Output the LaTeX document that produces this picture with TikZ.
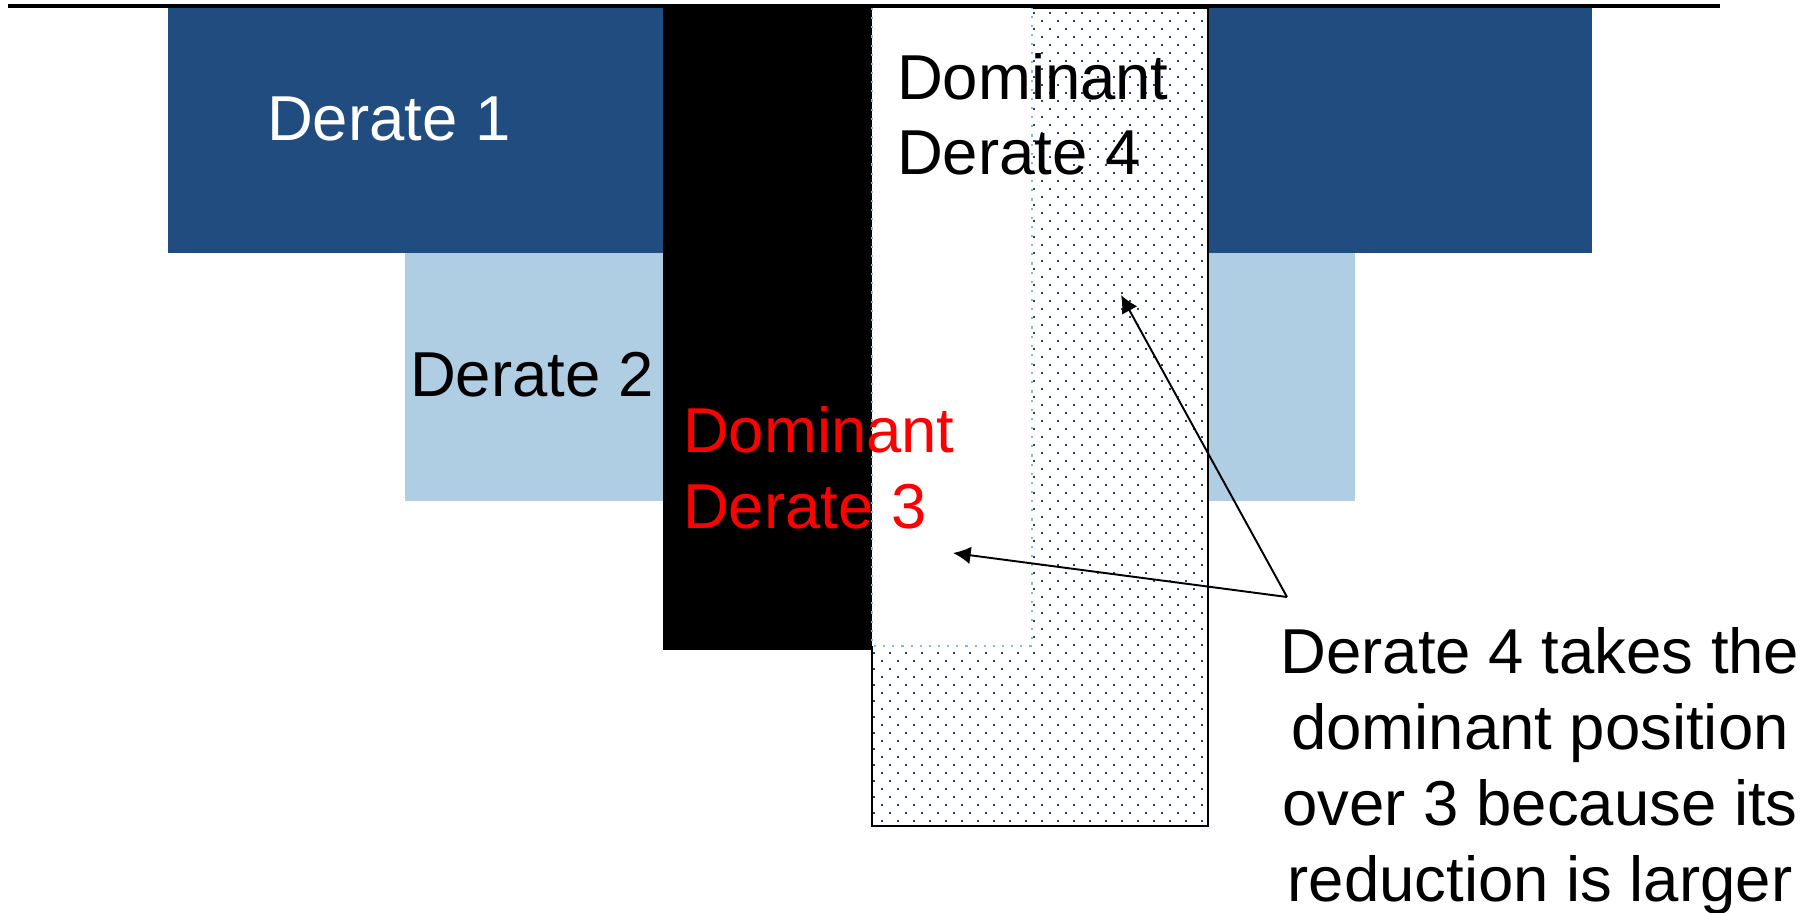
\documentclass[tikz,border=0pt]{standalone}
\usepackage{fontspec}
\setmainfont{Liberation Sans}
\usetikzlibrary{arrows.meta}
\definecolor{darkblue}{RGB}{33,76,128}
\definecolor{lightblue}{RGB}{175,205,227}
\definecolor{dotc}{RGB}{31,73,125}
\definecolor{edgeblue}{RGB}{141,179,226}
\definecolor{redtxt}{RGB}{255,0,0}
\tikzset{
  lbl/.style={inner sep=0pt, outer sep=0pt, font=\fontsize{18.05}{21.6}\selectfont, anchor=base west, align=left},
  conn/.style={draw=black, line width=0.55pt, -{Latex[length=5pt,width=5pt]}},
}
\begin{document}
\begin{tikzpicture}[x=0.01cm,y=-0.01cm]
\useasboundingbox (0,0) rectangle (1816,913);
% Derate 1
\fill[darkblue] (168,8) rectangle (1592,253);
% Derate 2
\fill[lightblue] (405,253) rectangle (1355,501);
% Derate 3 (black)
\fill[black] (663,8) rectangle (872,650);
% Derate 4 (dotted)
\fill[white] (872,8) rectangle (1208,826);
\begin{scope}
\clip (872,8) rectangle (1207,825);
\foreach \j in {0,...,102} {
  \foreach \i in {0,...,21} {
    \fill[dotc] ({873+8*mod(\j,2)+16*\i},{12+8*\j}) rectangle ++(2.2,2.2);
  }
}
\end{scope}
\draw[black, line width=0.65pt] (872,8) rectangle (1208,826);
% white box
\fill[white] (872,8) rectangle (1032,646);
\draw[edgeblue, line width=0.6pt, dotted] (872,8) -- (872,646) -- (1032,646) -- (1032,8);
% top line
\draw[black, line width=1.15pt] (8,6) -- (1720,6);
% labels
\node[lbl, text=white] (t1) at (267,141) {Derate 1};
\node[lbl, text=black] (t2) at (410,397) {Derate 2};
\node[lbl, text=redtxt] (t3) at (683,528) {Dominant\\Derate 3};
\node[lbl, text=black] (t4) at (897,175) {Dominant\\Derate 4};
\node[lbl, anchor=base, align=center] (note) at (1540,901) {Derate 4 takes the\\dominant position\\over 3 because its\\reduction is larger};
% connectors
\coordinate (conv) at (1287,597);
\coordinate (tip4) at (1121,295);
\coordinate (tip3) at (953,553);
\draw[conn] (conv) -- (tip4);
\draw[conn] (conv) -- (tip3);
\end{tikzpicture}
\end{document}
